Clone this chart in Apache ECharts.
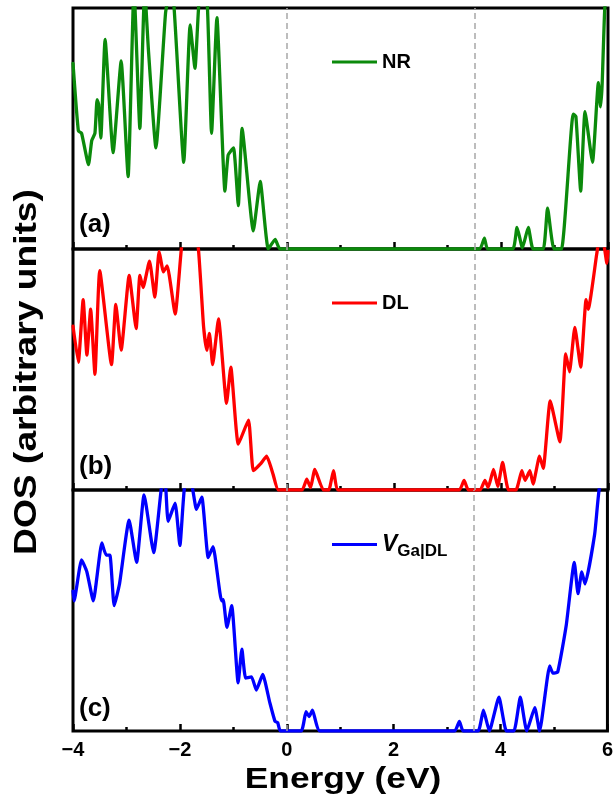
<!DOCTYPE html>
<html>
<head>
<meta charset="utf-8">
<script src="https://cdn.jsdelivr.net/npm/echarts@6/dist/echarts.min.js"></script>
<style>
  html, body { margin: 0; padding: 0; background: #fff; }
  #dos { width: 616px; height: 808px; }
</style>
</head>
<body>
<div id="dos"></div>
<script>
"use strict";

/*-----data (energy in eV, DOS in arbitrary units, panel top = 10)-----*/
var xTicks = [-4, -2, 0, 2, 4, 6];
var refLines = [0, 3.5];
var panelTags = ['(a)', '(b)', '(c)'];
var seriesNames = ['NR', 'DL', 'VGa|DL'];

var nrE = [-4.00, -3.90, -3.84, -3.71, -3.65, -3.59, -3.55, -3.52, -3.48, -3.40, -3.25, -3.10, -2.97, -2.86, -2.75, -2.66, -2.59, -2.45, -2.27, -2.20, -2.12, -1.93, -1.81, -1.72, -1.62, -1.51, -1.41, -1.31, -1.16, -1.10, -1.00, -0.91, -0.84, -0.63, -0.50, -0.35, -0.22, -0.13, 3.60, 3.69, 3.75, 4.22, 4.30, 4.40, 4.51, 4.60, 4.79, 4.87, 4.99, 5.13, 5.35, 5.40, 5.49, 5.57, 5.71, 5.82, 5.86, 5.89, 5.94, 6.00];
var nrDos = [7.7, 4.9, 4.8, 3.5, 4.5, 4.8, 6.2, 6.0, 4.6, 8.7, 4.0, 7.8, 3.0, 10.8, 5.0, 10.8, 8.25, 4.2, 9.8, 10.5, 10.3, 3.6, 9.3, 7.5, 10.8, 10.8, 4.8, 9.6, 2.4, 3.9, 4.2, 1.8, 5.0, 0.75, 2.8, 0.0, 0.4, 0, 0, 0.45, 0, 0, 0.9, 0.05, 0.9, 0, 0, 1.7, 0, 0, 5.6, 5.5, 2.4, 5.7, 3.6, 6.9, 5.9, 6.8, 10, 11];

var dlE = [-4.00, -3.90, -3.81, -3.74, -3.67, -3.59, -3.50, -3.28, -3.20, -3.10, -2.95, -2.82, -2.75, -2.69, -2.57, -2.47, -2.39, -2.31, -2.24, -2.09, -1.97, -1.82, -1.66, -1.56, -1.50, -1.45, -1.39, -1.28, -1.13, -1.05, -0.91, -0.72, -0.63, -0.50, -0.38, -0.26, -0.16, 0.28, 0.37, 0.44, 0.52, 0.68, 0.78, 0.87, 0.96, 3.22, 3.31, 3.39, 3.61, 3.70, 3.76, 3.86, 3.94, 4.03, 4.14, 4.28, 4.39, 4.45, 4.54, 4.60, 4.72, 4.79, 4.92, 5.10, 5.21, 5.28, 5.38, 5.49, 5.59, 5.63, 5.79, 5.84, 5.92, 5.98, 6.00];
var dlDos = [6.8, 5.3, 7.9, 5.6, 7.5, 4.8, 9.1, 5.2, 7.7, 5.8, 8.9, 6.7, 8.9, 8.4, 9.5, 8.0, 9.9, 9.05, 9.3, 7.3, 10.1, 12, 10.1, 6.8, 5.8, 6.5, 5.2, 7.1, 3.6, 5.1, 1.9, 2.9, 0.8, 1.07, 1.4, 0.65, 0, 0, 0.45, 0.1, 0.85, 0, 0, 0.8, 0, 0, 0.4, 0, 0, 0.4, 0.1, 0.85, 0.15, 1.15, 0, 0, 0.8, 0.4, 0.8, 0.25, 1.4, 0.9, 3.7, 2.0, 5.65, 4.9, 6.75, 5.1, 7.9, 7.5, 9.8, 10.4, 10.2, 9.4, 9.9];

var vgE = [-4.00, -3.98, -3.84, -3.74, -3.62, -3.46, -3.38, -3.31, -3.23, -3.13, -2.95, -2.81, -2.67, -2.49, -2.34, -2.28, -2.22, -2.09, -2.00, -1.91, -1.80, -1.69, -1.59, -1.47, -1.38, -1.22, -1.19, -1.12, -1.03, -0.91, -0.84, -0.77, -0.66, -0.57, -0.45, -0.32, -0.22, -0.17, -0.12, 0.27, 0.36, 0.42, 0.48, 0.62, 3.14, 3.23, 3.30, 3.58, 3.68, 3.79, 3.97, 4.11, 4.25, 4.37, 4.49, 4.64, 4.73, 4.92, 4.98, 5.07, 5.23, 5.38, 5.45, 5.52, 5.58, 5.76, 5.85, 6.00];
var vgDos = [5.8, 5.4, 7.1, 6.6, 5.4, 7.8, 7.3, 7.3, 5.2, 6.1, 8.75, 7.0, 9.8, 7.4, 10.2, 10.5, 8.7, 9.45, 7.7, 10.2, 10.4, 9.2, 9.7, 7.2, 7.65, 5.4, 5.45, 4.3, 5.2, 2.0, 3.4, 2.2, 2.25, 1.7, 2.35, 1.2, 0.4, 0.35, 0, 0, 0.8, 0.6, 0.87, 0, 0, 0.4, 0, 0, 0.87, 0, 1.4, 0, 0, 1.4, 0, 0.97, 0, 2.7, 2.4, 2.45, 4.4, 7.0, 5.7, 6.6, 6.1, 8.15, 10.1, 11];

var panelE = [nrE, dlE, vgE];
var panelDos = [nrDos, dlDos, vgDos];
var colors = ['#0b8a0b', '#ff0000', '#0000ff'];

var FONT = '"Liberation Sans", Arial, sans-serif';

function zip(xs, ys) {
	return xs.map(function (x, i) { return [x, ys[i]]; });
}

var grids = [
	{ left: 73, right: 8, top: 8, height: 241 },
	{ left: 73, right: 8, top: 249, height: 241 },
	{ left: 73, right: 8, top: 490, height: 241 }
];

var xAxes = [], yAxes = [], series = [], legends = [], graphics = [];

grids.forEach(function (g, i) {
	g.show = true;
	g.borderColor = '#000';
	g.borderWidth = 3;
	g.containLabel = false;
	var last = i === grids.length - 1;
	xAxes.push({
		gridIndex: i,
		type: 'value',
		min: xTicks[0],
		max: xTicks[xTicks.length - 1],
		interval: 2,
		axisLine: { show: false },
		axisTick: { show: true, inside: true, length: 7, lineStyle: { color: '#000', width: 2.5 } },
		minorTick: { show: true, splitNumber: 2, length: 4, lineStyle: { color: '#000', width: 2.5 } },
		splitLine: { show: false },
		axisLabel: {
			show: last,
			margin: 9,
			fontFamily: FONT,
			fontWeight: 'bold',
			fontSize: 20,
			color: '#000',
			formatter: function (v) { return String(v).replace('-', '\u2212'); }
		}
	});
	yAxes.push({
		gridIndex: i,
		type: 'value',
		min: 0,
		max: 10,
		axisLine: { show: false },
		axisTick: { show: false },
		axisLabel: { show: false },
		splitLine: { show: false }
	});
	series.push({
		name: seriesNames[i],
		type: 'line',
		xAxisIndex: i,
		yAxisIndex: i,
		data: zip(panelE[i], panelDos[i]),
		symbol: 'none',
		smooth: 0.15,
		clip: true,
		color: colors[i],
		lineStyle: { color: colors[i], width: 3.3, join: 'round', cap: 'round' },
		markLine: {
			silent: true,
			symbol: ['none', 'none'],
			label: { show: false },
			lineStyle: { color: '#a8a8a8', type: [6, 4], width: 1.5 },
			data: refLines.map(function (e) { return { xAxis: e }; })
		},
		z: 3
	});
	legends.push({
		data: [{ name: seriesNames[i], icon: 'rect' }],
		left: 327,
		top: [47, 288, 528][i],
		itemWidth: 45,
		itemHeight: 3,
		itemGap: 0,
		selectedMode: false,
		textStyle: {
			fontFamily: FONT,
			fontWeight: 'bold',
			fontSize: 20,
			color: '#000',
			rich: {
				v: { fontFamily: FONT, fontWeight: 'bold', fontStyle: 'italic', fontSize: 23, color: '#000' },
				s: { fontFamily: FONT, fontWeight: 'bold', fontSize: 17, color: '#000', padding: [14, 0, 0, 0] }
			}
		},
		formatter: function (name) {
			if (name === 'VGa|DL') return '{v|V}{s|Ga|DL}';
			return name;
		}
	});
	graphics.push({
		type: 'text',
		left: 79,
		top: [212, 454, 696][i],
		style: { text: panelTags[i], font: 'bold 26px ' + FONT, fill: '#000' },
		z: 10
	});
});

// axis titles (the source figure uses a wide bold face, hence the horizontal stretch)
graphics.push({
	type: 'text',
	x: 27,
	y: 372,
	rotation: Math.PI / 2,
	scaleX: 1.2,
	style: {
		text: 'DOS (arbitrary units)',
		font: 'bold 31px ' + FONT,
		fill: '#000',
		align: 'center',
		verticalAlign: 'middle'
	}
});
graphics.push({
	type: 'text',
	x: 343,
	y: 780,
	scaleX: 1.22,
	style: {
		text: 'Energy (eV)',
		font: 'bold 29px ' + FONT,
		fill: '#000',
		align: 'center',
		verticalAlign: 'middle'
	}
});

var chart = echarts.init(document.getElementById('dos'), null, { renderer: 'canvas' });
chart.setOption({
	animation: false,
	backgroundColor: '#fff',
	grid: grids,
	xAxis: xAxes,
	yAxis: yAxes,
	legend: legends,
	series: series,
	graphic: graphics
});
</script>
</body>
</html>
